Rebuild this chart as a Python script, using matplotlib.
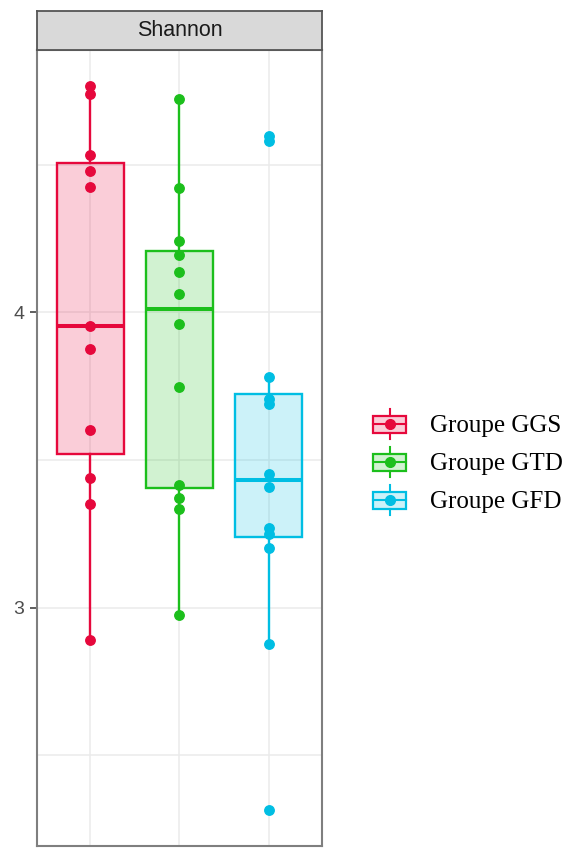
import numpy as np
import matplotlib
matplotlib.use("Agg")
from matplotlib import pyplot as plt
from matplotlib.lines import Line2D
from matplotlib.patches import Rectangle
from matplotlib.colors import to_rgba
from matplotlib.legend_handler import HandlerBase

groups = ["Groupe GGS", "Groupe GTD", "Groupe GFD"]
colors = ["#E6083C", "#1CBF1C", "#00BEE3"]

ggs = [4.767, 4.740, 4.534, 4.480, 4.426, 3.953, 3.875, 3.601, 3.439, 3.351, 2.889]
gtd = [4.725, 4.423, 4.241, 4.196, 4.138, 4.062, 3.960, 3.747, 3.415, 3.371, 3.334, 2.975]
gfd = [4.598, 4.581, 3.783, 3.706, 3.689, 3.453, 3.409, 3.270, 3.250, 3.203, 2.877, 2.315]
data = [ggs, gtd, gfd]

y_ticks = [3, 4]
y_minor = [2.5, 3.5, 4.5]


class BoxKey(HandlerBase):
    # legend key: little boxplot with a point in the middle
    def create_artists(self, legend, orig_handle, xdescent, ydescent,
                       width, height, fontsize, trans):
        c = orig_handle.get_color()
        x0, y0 = -xdescent, -ydescent
        xm, ym = x0 + width / 2, y0 + height / 2
        bh = height * 0.56
        w1 = Line2D([xm, xm], [y0, ym - bh / 2], color=c, lw=1.5, transform=trans)
        w2 = Line2D([xm, xm], [ym + bh / 2, y0 + height], color=c, lw=1.5, transform=trans)
        box = Rectangle((x0, ym - bh / 2), width, bh, facecolor=to_rgba(c, 0.2),
                        edgecolor=c, lw=1.6, transform=trans)
        med = Line2D([x0, x0 + width], [ym, ym], color=c, lw=1.5, transform=trans)
        pt = Line2D([xm], [ym], marker="o", ms=7, color=c, lw=0, transform=trans)
        return [w1, w2, box, med, pt]


fig = plt.figure(figsize=(5.69, 8.48), dpi=100)
ax = fig.add_axes([0.065, 0.0024, 0.5009, 0.9387])

pos = np.arange(1, len(groups) + 1)
bp = ax.boxplot(data, positions=pos, widths=0.76, patch_artist=True,
                showfliers=False, showcaps=False, whis=1.5, zorder=3)
for i, c in enumerate(colors):
    bp["boxes"][i].set_facecolor(to_rgba(c, 0.2))
    bp["boxes"][i].set_edgecolor(c)
    bp["boxes"][i].set_linewidth(1.7)
    bp["medians"][i].set_color(c)
    bp["medians"][i].set_linewidth(2.9)
    for w in bp["whiskers"][2 * i:2 * i + 2]:
        w.set_color(c)
        w.set_linewidth(1.7)

for i, (vals, c) in enumerate(zip(data, colors)):
    ax.plot(np.full(len(vals), pos[i]), vals, "o", color=c, ms=6.8, zorder=4)

lo = min(min(d) for d in data)
hi = max(max(d) for d in data)
pad = 0.05 * (hi - lo)
ax.set_ylim(lo - pad, hi + pad)
ax.set_xlim(0.4, 3.6)

ax.set_yticks(y_ticks)
ax.set_yticks(y_minor, minor=True)
ax.set_yticklabels([str(t) for t in y_ticks])
ax.set_xticks(pos)
ax.set_xticklabels([])
ax.tick_params(axis="x", length=0)
ax.tick_params(axis="y", which="major", length=5, width=1.1, color="#333333",
               labelsize=14, labelcolor="#4D4D4D", pad=4)
ax.tick_params(axis="y", which="minor", length=0)
for lab in ax.get_yticklabels():
    lab.set_family("Liberation Sans")
ax.grid(True, which="both", color="#EBEBEB", lw=1.1, zorder=0)
ax.set_axisbelow(True)
for s in ax.spines.values():
    s.set_color("#7F7F7F")
    s.set_linewidth(1.5)

# facet strip
strip = fig.add_axes([0.065, 0.9410, 0.5009, 0.046])
strip.set_facecolor("#D9D9D9")
strip.set_xticks([])
strip.set_yticks([])
for s in strip.spines.values():
    s.set_color("#555555")
    s.set_linewidth(1.3)
strip.text(0.5, 0.5, "Shannon", ha="center", va="center", fontsize=15.5,
           family="Liberation Sans", color="#1A1A1A", transform=strip.transAxes)

handles = [Line2D([], [], color=c) for c in colors]
fig.legend(handles, groups, handler_map={Line2D: BoxKey()},
           loc="center left", bbox_to_anchor=(0.656, 0.455),
           bbox_transform=fig.transFigure, frameon=False,
           prop={"family": "Liberation Serif", "size": 18},
           handlelength=1.3, handleheight=1.5, labelspacing=0.3,
           handletextpad=0.95, borderpad=0, borderaxespad=0)

plt.savefig("out.png", dpi=100)
